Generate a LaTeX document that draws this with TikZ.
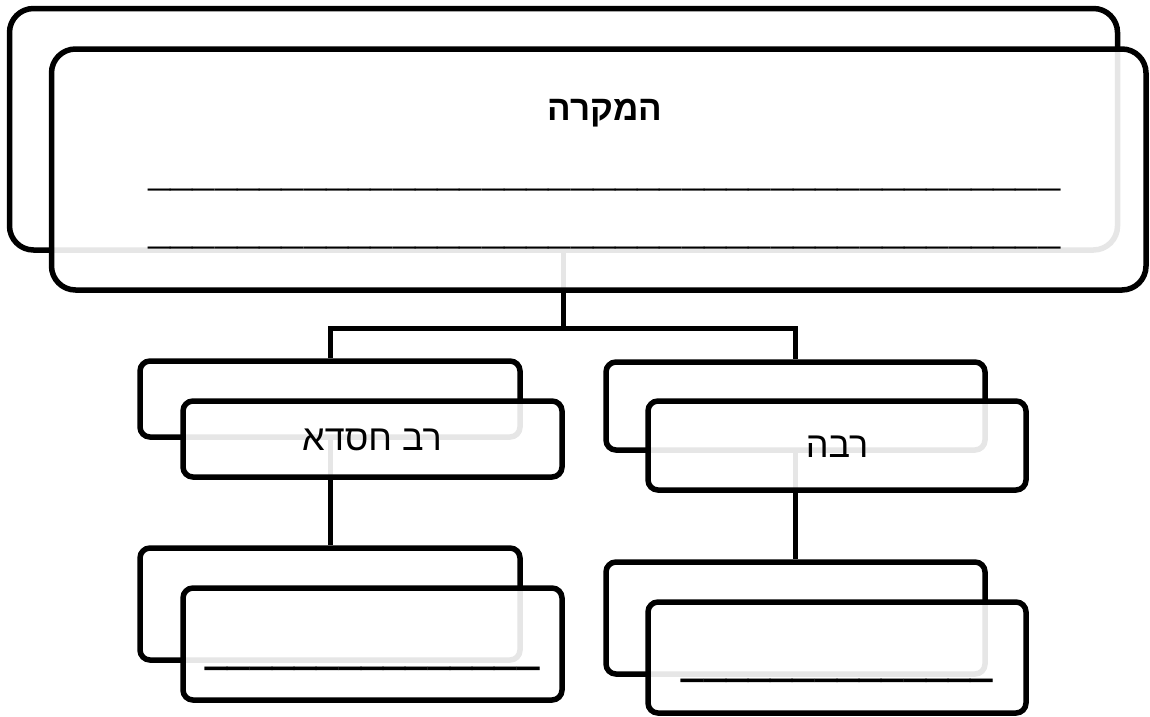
\documentclass[tikz,border=0pt]{standalone}
\usepackage{fontspec}
\newfontfamily\hebfont[Script=Hebrew]{Liberation Sans}
\TeXXeTstate=1
\begin{document}
\begin{tikzpicture}[x=1pt,y=-1pt,
  box/.style={draw=black, line width=5.5pt, fill=white, inner sep=0pt, rectangle},
  bigr/.style={rounded corners=24pt},
  smallr/.style={rounded corners=10pt},
  front/.style={fill opacity=0.9, text opacity=1},
  conn/.style={draw=black, line width=5pt},
  lbl/.style={font=\hebfont\fontsize{36}{36}\selectfont, inner sep=0pt, text=black},
  blank/.style={font=\hebfont\fontsize{40}{40}\selectfont, inner sep=0pt, text=black}
]
\useasboundingbox (0,0) rectangle (1150,716);
% back boxes
\node[box,bigr,minimum width=1108pt,minimum height=241.5pt] (tb) at (563.5,129.25) {};
\node[box,smallr,minimum width=380pt,minimum height=76pt] (llb) at (330,399) {};
\node[box,smallr,minimum width=379pt,minimum height=88pt] (rlb) at (795.5,406) {};
\node[box,smallr,minimum width=380pt,minimum height=112pt] (lbb) at (330,604) {};
\node[box,smallr,minimum width=379pt,minimum height=112pt] (rbb) at (795.5,618) {};
% connectors
\draw[conn] (tb.south) -- ++(0,75.5) -| (llb.north);
\draw[conn] (tb.south) -- ++(0,75.5) -| (rlb.north);
\draw[conn] (llb.south) -- (lbb.north);
\draw[conn] (rlb.south) -- (rbb.north);
% front boxes
\node[box,bigr,front,minimum width=1094.5pt,minimum height=241pt] (tf) at (598.75,169.5) {};
\node[box,smallr,front,minimum width=379pt,minimum height=76pt] (llf) at (372.5,439) {};
\node[box,smallr,front,minimum width=378pt,minimum height=89pt] (rlf) at (837,445.5) {};
\node[box,smallr,front,minimum width=379pt,minimum height=112pt] (lbf) at (372.5,644) {};
\node[box,smallr,front,minimum width=378pt,minimum height=111pt] (rbf) at (837,657.5) {};
% texts
\node[lbl,font=\hebfont\bfseries\fontsize{35}{35}\selectfont] (title) at (605,113) {\beginR המקרה\endR};
\node[blank,font=\hebfont\bfseries\fontsize{40}{40}\selectfont] (u1) at (604.5,187.5) {\scalebox{1}[1.35]{\_\_\_\_\_\_\_\_\_\_\_\_\_\_\_\_\_\_\_\_\_\_\_\_\_\_\_\_\_\_\_\_\_\_\_\_\_\_\_\_\_}};
\node[blank,font=\hebfont\bfseries\fontsize{40}{40}\selectfont] (u2) at (604.5,246) {\scalebox{1}[1.35]{\_\_\_\_\_\_\_\_\_\_\_\_\_\_\_\_\_\_\_\_\_\_\_\_\_\_\_\_\_\_\_\_\_\_\_\_\_\_\_\_\_}};
\node[lbl] (t1) at (372,440) {\beginR רב חסדא\endR};
\node[lbl] (t2) at (837,447) {\beginR רבה\endR};
\node[blank] (u3) at (372.5,665) {\scalebox{1}[1.4]{\_\_\_\_\_\_\_\_\_\_\_\_\_\_\_}};
\node[blank] (u4) at (837.5,677) {\scalebox{1}[1.4]{\_\_\_\_\_\_\_\_\_\_\_\_\_\_}};
\end{tikzpicture}
\end{document}
